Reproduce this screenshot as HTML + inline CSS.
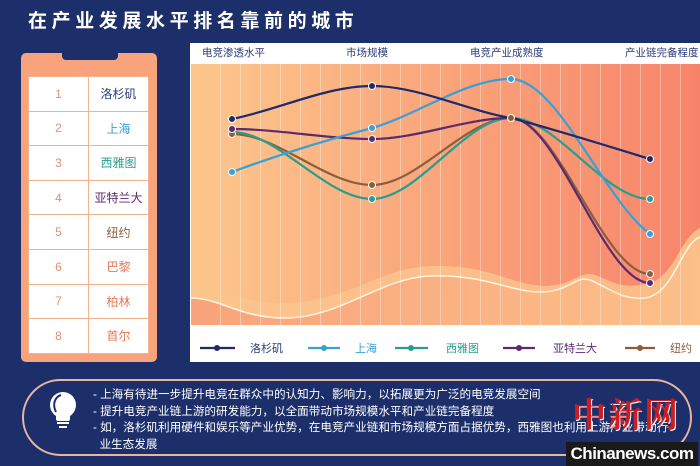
<!DOCTYPE html>
<html><head><meta charset="utf-8"><style>
body{margin:0;width:700px;height:466px;overflow:hidden;background:#1c2f6b;font-family:"Liberation Sans","Noto Sans CJK SC",sans-serif;position:relative}
.t{position:absolute;left:28px;top:6px;color:#fff;font-size:19px;letter-spacing:4.6px;font-weight:bold}
.card{position:absolute;left:21px;top:53px;width:136px;height:309px;background:#f9a37d;border-radius:5px}
.notch{position:absolute;left:62px;top:53px;width:56px;height:7px;background:#1c2f6b;border-radius:0 0 4px 4px}
table{position:absolute;left:28px;top:76px;border-collapse:collapse}
td{width:59px;height:33.6px;background:#fff;border:1px solid #f0b290;text-align:center;font-size:12px;padding:0}
td.n{color:#d9936e}
.box{position:absolute;left:22px;top:379px;width:670px;height:77px;border:2px solid #e8b5a0;border-radius:40px;box-sizing:border-box}
.tx{position:absolute;left:93px;top:387px;color:#fff;font-size:11.6px;line-height:16.5px;width:600px}
.wm{position:absolute;left:572px;top:388px;color:#d01c1f;font-size:34px;font-weight:bold;font-family:"Noto Serif CJK SC",serif;letter-spacing:2px;text-shadow:1px 1px 0 #fff}
.cn{position:absolute;left:566px;top:442px;width:132px;height:24px;background:#1a1a1a;color:#fff;font-weight:bold;font-size:17px;text-align:center;line-height:24px;letter-spacing:-0.5px}
</style></head><body>
<div class="t">在产业发展水平排名靠前的城市</div>
<div class="card"></div><div class="notch"></div>
<table>
<tr><td class="n">1</td><td style="color:#2a3b7a">洛杉矶</td></tr>
<tr><td class="n">2</td><td style="color:#3a9fd6">上海</td></tr>
<tr><td class="n">3</td><td style="color:#2a9d8f">西雅图</td></tr>
<tr><td class="n">4</td><td style="color:#5c2a6e">亚特兰大</td></tr>
<tr><td class="n">5</td><td style="color:#8b5e3c">纽约</td></tr>
<tr><td class="n">6</td><td style="color:#e07a55">巴黎</td></tr>
<tr><td class="n">7</td><td style="color:#e07a55">柏林</td></tr>
<tr><td class="n">8</td><td style="color:#e07a55">首尔</td></tr>
</table>
<svg style="position:absolute;left:0;top:0" width="700" height="466">
<defs><linearGradient id="g" x1="0" x2="1" y1="0" y2="0"><stop offset="0" stop-color="#fcc78c"/><stop offset="0.5" stop-color="#faa47a"/><stop offset="1" stop-color="#f7846a"/></linearGradient>
<linearGradient id="g2" x1="0" x2="1"><stop offset="0" stop-color="#f9a47c"/><stop offset="1" stop-color="#fcbf88"/></linearGradient>
<pattern id="st" width="20" height="10" patternUnits="userSpaceOnUse"><rect x="0" width="1" height="10" fill="#fff" opacity="0.35"/></pattern></defs>
<rect x="190" y="43" width="510" height="319" fill="#fff"/>
<rect x="191" y="64" width="509" height="261" fill="url(#g)"/>
<path d="M191 290 C230 290 250 305 290 303 C350 300 380 268 430 266 C490 264 510 285 545 286 C575 285 580 270 595 275 C615 282 620 290 650 283 C675 275 680 238 700 228 L700 325 L191 325Z" fill="#fcc48d" opacity="0.85"/>
<path d="M191 298 C220 298 240 318 285 318 C340 318 380 278 430 276 C485 274 510 292 540 292 C570 292 575 275 590 280 C610 288 620 300 645 298 C675 293 680 245 700 237 L700 325 L191 325Z" fill="url(#g2)"/>
<path d="M191 298 C220 298 240 318 285 318 C340 318 380 278 430 276 C485 274 510 292 540 292 C570 292 575 275 590 280 C610 288 620 300 645 298 C675 293 680 245 700 237" fill="none" stroke="#fff6e0" stroke-width="1.5"/>
<rect x="191" y="64" width="509" height="261" fill="url(#pattern)" />
<rect x="201" y="64" width="499" height="261" fill="url(#st)"/>
<g font-size="10.5" fill="#2a3b7a"><text x="202" y="56">电竞渗透水平</text><text x="346" y="56">市场规模</text><text x="470" y="56">电竞产业成熟度</text><text x="625" y="56">产业链完备程度</text></g>
<g fill="none" stroke-width="2.2">
<path d="M232 134 C278 134 326 185 372 185 C418 185 465 118 511 118 C557 118 604 274 650 274" stroke="#8b5e3c"/>
<path d="M232 132 C278 132 326 199 372 199 C418 199 465 118 511 118 C557 118 604 199 650 199" stroke="#2a9d8f"/>
<path d="M232 129 C278 129 326 139 372 139 C418 139 465 118 511 118 C557 118 604 283 650 283" stroke="#5c2a6e"/>
<path d="M232 172 C278 155 326 140 372 128 C418 115 465 79 511 79 C557 79 604 200 650 234" stroke="#3a9fd6"/>
<path d="M232 119 C278 110 326 86 372 86 C418 86 465 110 511 118 C557 130 604 145 650 159" stroke="#1f2a6b"/>
</g>
<g stroke="#fff" stroke-width="1">
<circle cx="232" cy="134" r="3.5" fill="#8b5e3c"/><circle cx="372" cy="185" r="3.5" fill="#8b5e3c"/><circle cx="650" cy="274" r="3.5" fill="#8b5e3c"/>
<circle cx="372" cy="199" r="3.5" fill="#2a9d8f"/><circle cx="650" cy="199" r="3.5" fill="#2a9d8f"/>
<circle cx="232" cy="129" r="3.5" fill="#5c2a6e"/><circle cx="372" cy="139" r="3.5" fill="#5c2a6e"/><circle cx="650" cy="283" r="3.5" fill="#5c2a6e"/>
<circle cx="232" cy="172" r="3.5" fill="#3a9fd6"/><circle cx="372" cy="128" r="3.5" fill="#3a9fd6"/><circle cx="511" cy="79" r="3.5" fill="#3a9fd6"/><circle cx="650" cy="234" r="3.5" fill="#3a9fd6"/>
<circle cx="232" cy="119" r="3.5" fill="#1f2a6b"/><circle cx="372" cy="86" r="3.5" fill="#1f2a6b"/><circle cx="650" cy="159" r="3.5" fill="#1f2a6b"/>
<circle cx="511" cy="118" r="3.5" fill="#8b5e3c"/>
</g>
<g stroke-width="2.2" font-size="11">
<line x1="200" y1="348" x2="235" y2="348" stroke="#1f2a6b"/><circle cx="217" cy="348" r="3" fill="#1f2a6b"/><text x="250" y="352" fill="#2a3b7a" stroke="none">洛杉矶</text>
<line x1="308" y1="348" x2="340" y2="348" stroke="#3a9fd6"/><circle cx="324" cy="348" r="3" fill="#3a9fd6"/><text x="355" y="352" fill="#3a9fd6" stroke="none">上海</text>
<line x1="395" y1="348" x2="428" y2="348" stroke="#2a9d8f"/><circle cx="411" cy="348" r="3" fill="#2a9d8f"/><text x="446" y="352" fill="#2a9d8f" stroke="none">西雅图</text>
<line x1="503" y1="348" x2="535" y2="348" stroke="#5c2a6e"/><circle cx="519" cy="348" r="3" fill="#5c2a6e"/><text x="553" y="352" fill="#5c2a6e" stroke="none">亚特兰大</text>
<line x1="625" y1="348" x2="655" y2="348" stroke="#8b5e3c"/><circle cx="640" cy="348" r="3" fill="#8b5e3c"/><text x="670" y="352" fill="#8b5e3c" stroke="none">纽约</text>
</g>
<g fill="#fff"><circle cx="63" cy="405" r="13"/><rect x="56" y="414" width="14" height="7" rx="2"/><rect x="57" y="422" width="12" height="2"/><rect x="59" y="426" width="8" height="2"/></g>
<path d="M56 412 C52 404 55 397 61 395" stroke="#1c2f6b" stroke-width="2" fill="none"/>
</svg>
<div class="box"></div>
<div class="tx">- 上海有待进一步提升电竞在群众中的认知力、影响力，以拓展更为广泛的电竞发展空间<br>- 提升电竞产业链上游的研发能力，以全面带动市场规模水平和产业链完备程度<br>- 如，洛杉矶利用硬件和娱乐等产业优势，在电竞产业链和市场规模方面占据优势，西雅图也利用上游产业带动行<br>&nbsp;&nbsp;业生态发展</div>
<div class="wm">中新网</div>
<div class="cn">Chinanews.com</div>
</body></html>
